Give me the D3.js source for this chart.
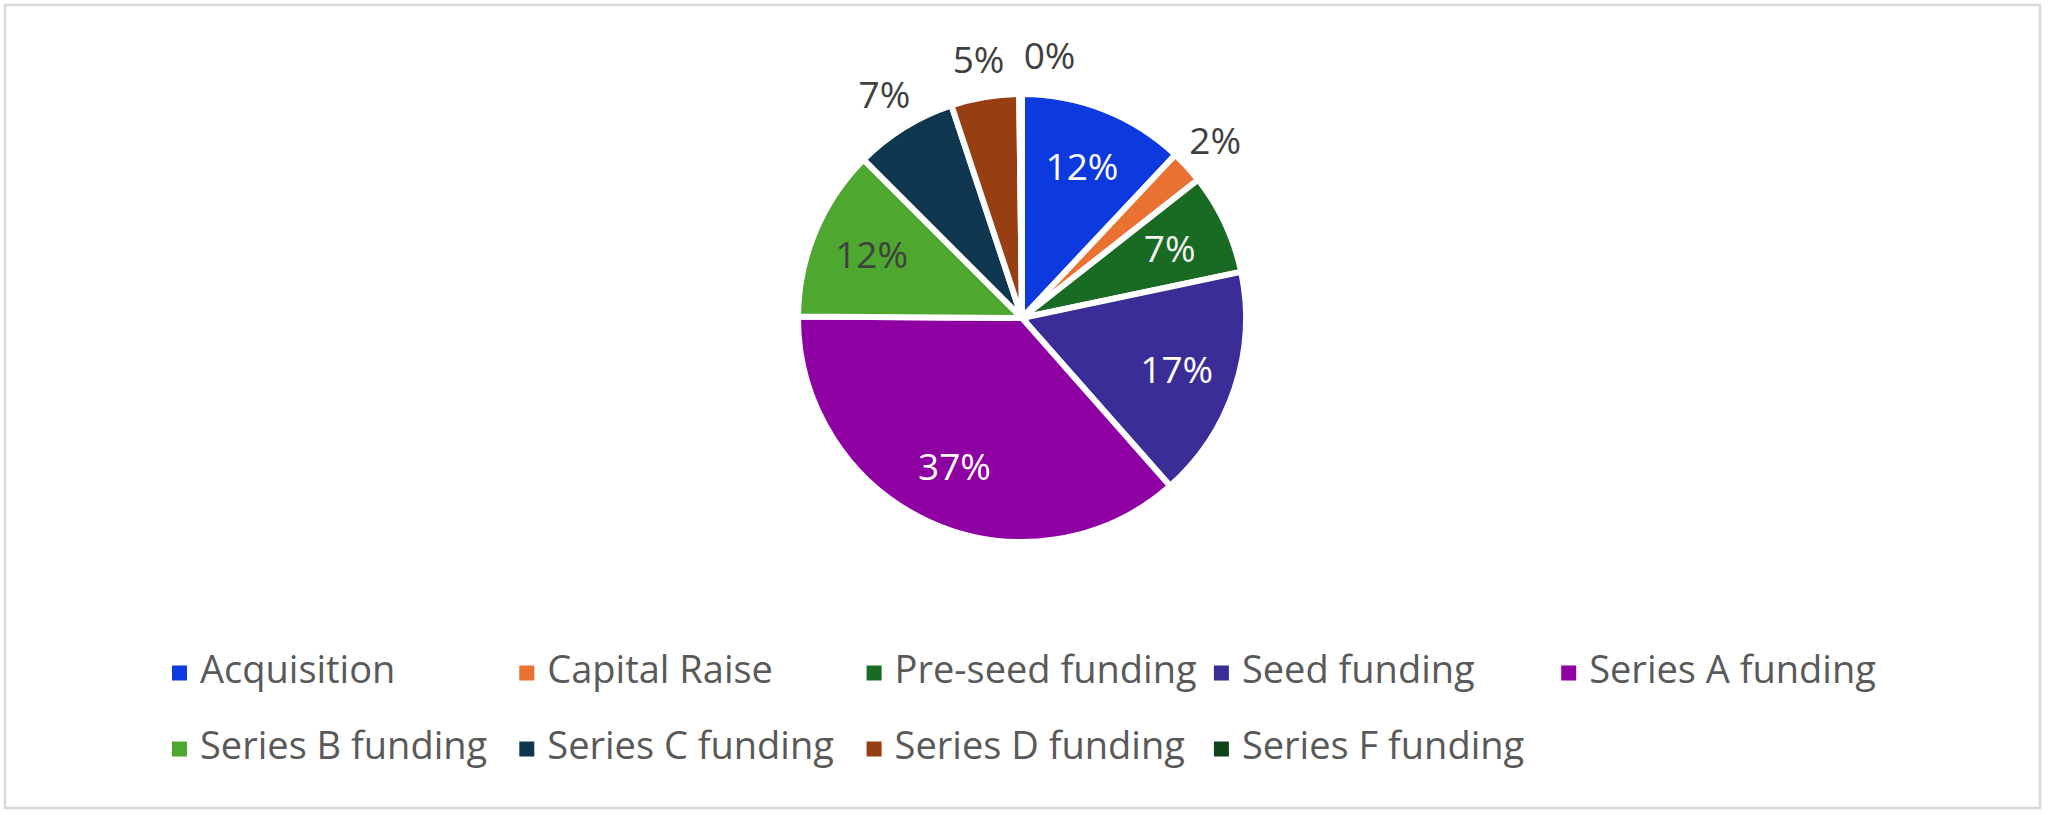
<!DOCTYPE html>
<html><head><meta charset="utf-8">
<script src="https://cdn.jsdelivr.net/npm/d3@7"></script>
<style>html,body{margin:0;padding:0;background:#fff;} svg{display:block;}</style>
</head><body>
<svg id="chart" width="2048" height="815"></svg>
<script>
// ---- data ----
const categories = ["Acquisition","Capital Raise","Pre-seed funding","Seed funding","Series A funding","Series B funding","Series C funding","Series D funding","Series F funding"];
const values = [12.0, 2.4, 7.3, 16.8, 36.6, 12.4, 7.4, 4.9, 0.2];
const colors = ["#0D3ADF","#E97132","#196B24","#3B2D97","#8F00A3","#4EA72E","#0F3850","#973F12","#0E4419"];
const labelInside = [true, false, true, true, true, true, false, false, false];
const labelColors = ["#ffffff","#404040","#f2f2f2","#ffffff","#ffffff","#404040","#404040","#404040","#404040"];

// ---- layout ----
const W = 2048, H = 815;
const cx = 1022, cy = 318, R = 224;
const font = "'Open Sans', 'Liberation Sans', Arial, sans-serif";
const svg = d3.select("#chart");

svg.append("rect").attr("x",5).attr("y",5).attr("width",2035).attr("height",803)
  .attr("fill","#fff").attr("stroke","#d9d9d9").attr("stroke-width",2.5);

const data = categories.map((c,i)=>({name:c, value:values[i], color:colors[i], inside:labelInside[i], lc:labelColors[i]}));
const total = d3.sum(values);
const pct = d3.format(".0%");
const pie = d3.pie().sort(null).value(d=>d.value).startAngle(0).endAngle(2*Math.PI);
const arcs = pie(data);
const arc = d3.arc().innerRadius(0).outerRadius(R);
const inArc = d3.arc().innerRadius(163).outerRadius(163);
const outArc = d3.arc().innerRadius(262).outerRadius(262);

const g = svg.append("g").attr("transform",`translate(${cx},${cy})`);
g.selectAll("path.slice").data(arcs).join("path")
  .attr("class","slice")
  .attr("d",arc)
  .attr("fill",d=>d.data.color)
  .attr("stroke","#fff").attr("stroke-width",6).attr("stroke-linejoin","miter");

// label positions
const fs = 37;
const placed = [];
arcs.forEach(d=>{
  const txt = pct(d.data.value/total);
  let [x,y] = d.data.inside ? inArc.centroid(d) : outArc.centroid(d);
  const w = txt.length===2 ? 51 : 73;
  if(!d.data.inside){
    // simple collision avoidance with previously placed outside labels
    placed.forEach(p=>{
      if(Math.abs(p.y-y) < 30 && Math.abs(p.x-x) < (p.w+w)/2 + 20){
        x = p.x + (p.w+w)/2 + 20;
      }
    });
    placed.push({x,y,w});
  }
  d.lx = x; d.ly = y; d.txt = txt;
});

g.selectAll("text.lbl").data(arcs).join("text")
  .attr("class","lbl")
  .attr("x",d=>d.lx).attr("y",d=>d.ly).attr("dy","0.36em")
  .attr("text-anchor","middle")
  .attr("font-family",font).attr("font-size",fs)
  .attr("fill",d=>d.data.lc)
  .text(d=>d.txt);

// legend
const colW = 347.3, lx0 = 172, rowY = [673, 749], perRow = 5;
const leg = svg.append("g");
const items = leg.selectAll("g.item").data(data).join("g").attr("class","item")
  .attr("transform",(d,i)=>`translate(${lx0 + (i%perRow)*colW},${rowY[Math.floor(i/perRow)]})`);
items.append("rect").attr("x",0).attr("y",-7.5).attr("width",15).attr("height",15).attr("fill",d=>d.color);
items.append("text").attr("x",28).attr("y",10)
  .attr("font-family",font).attr("font-size",38).attr("fill","#595959")
  .text(d=>d.name);
</script>
</body></html>
